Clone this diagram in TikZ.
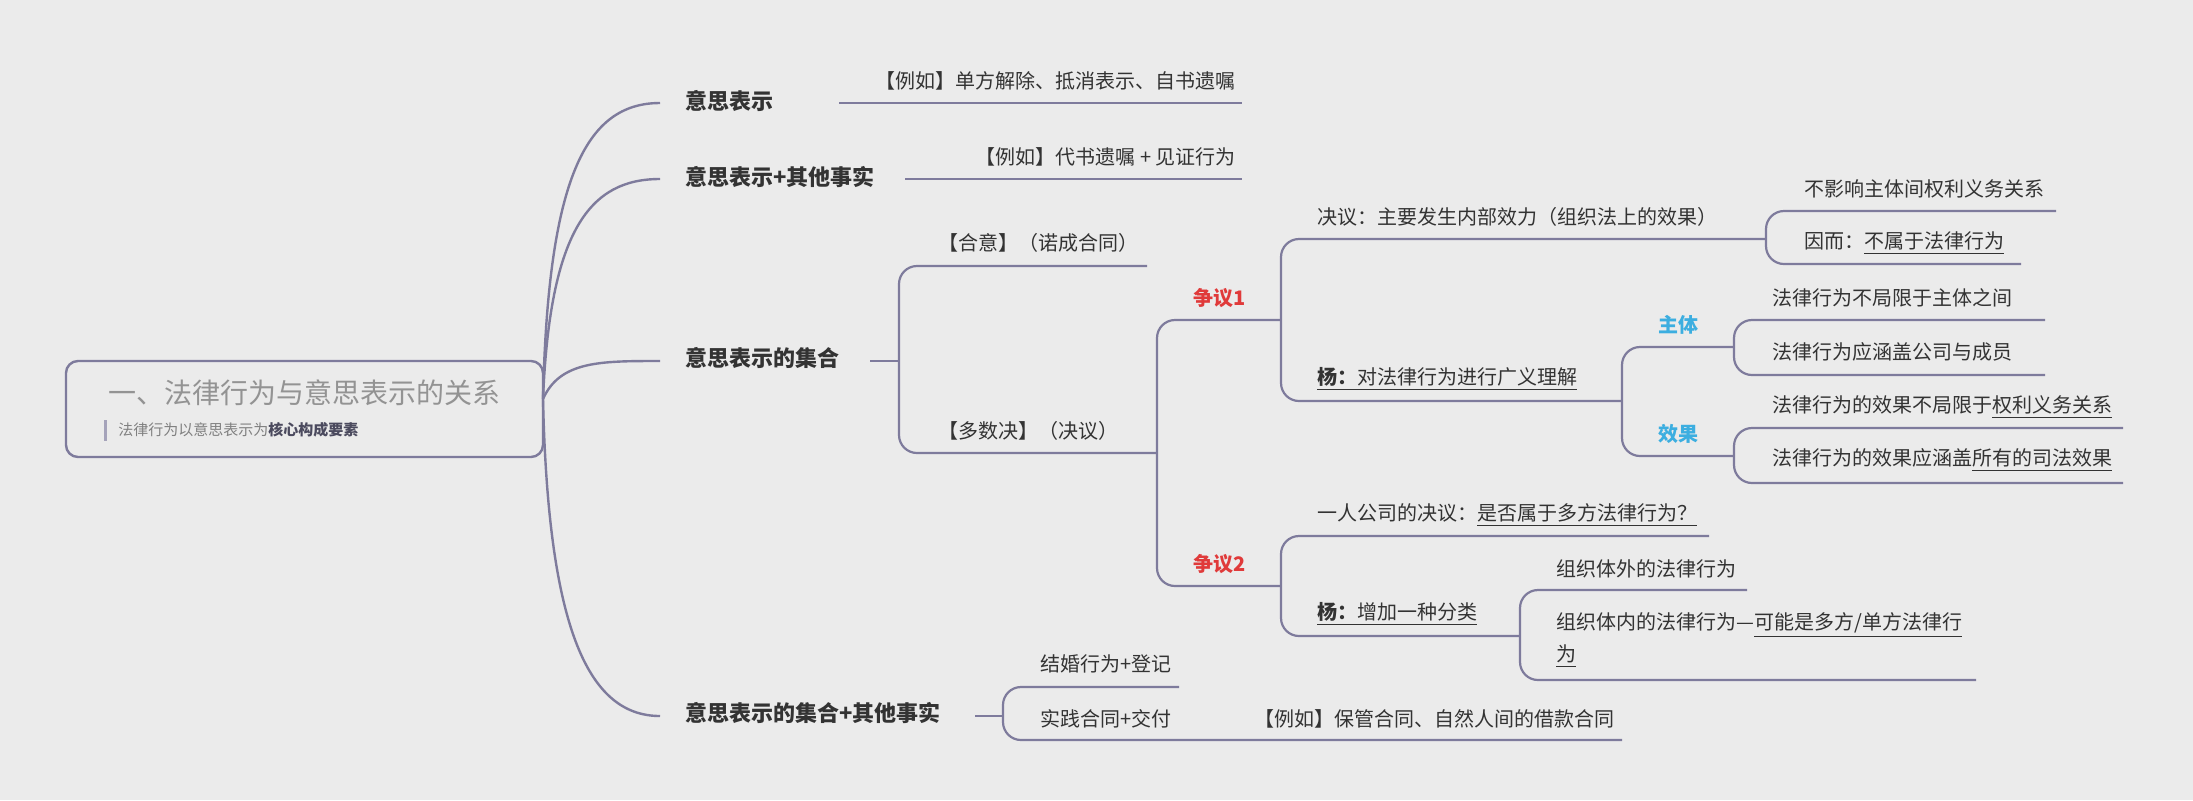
\documentclass[tikz,border=0pt]{standalone}
\usepackage{fontspec}
\setmainfont{Noto Sans CJK SC}
\usetikzlibrary{positioning}
\definecolor{linec}{HTML}{7E7B9C}
\definecolor{bgc}{HTML}{EBEBEB}
\definecolor{redc}{HTML}{E03A3A}
\definecolor{bluec}{HTML}{3CAEE0}
\definecolor{textc}{HTML}{333333}
\begin{document}
\begin{tikzpicture}[x=0.5pt,y=-0.5pt,
      branch/.style={draw=linec,line width=1.1pt,rounded corners=9pt},
      curve_st/.style={draw=linec,line width=1.2pt},
      topic_main/.style={anchor=west,font=\fontsize{11}{13}\selectfont\bfseries,text=textc,inner sep=0pt},
      topic_sub/.style={anchor=west,font=\fontsize{10}{16}\selectfont,text=textc,inner sep=0pt,align=left},
      topic_red/.style={anchor=west,font=\fontsize{10}{12}\selectfont\bfseries,text=redc,inner sep=0pt},
      topic_blue/.style={anchor=west,font=\fontsize{10}{12}\selectfont\bfseries,text=bluec,inner sep=0pt}
]
      \fill[bgc] (0,0) rectangle (2193,800);
      \useasboundingbox (0,0) rectangle (2193,800);
      % root
      \draw[linec,line width=1.2pt,rounded corners=6pt] (66,361) rectangle (543,457);
      \node[anchor=center,font=\fontsize{14}{16}\selectfont,text=gray!85] (root) at (304,393) {一、法律行为与意思表示的关系};
      \draw[linec!70,line width=1.5pt] (105,420) -- (105,441);
      \node[anchor=west,inner sep=0pt,font=\fontsize{7.5}{9}\selectfont,text=gray] (rootsub) at (118,430) {法律行为以意思表示为\textcolor{linec!60!black}{\bfseries 核心构成要素}};
      \coordinate (r) at (543,399);

      % level 1
      \coordinate (a1) at (660,103);
      \coordinate (a2) at (660,179);
      \coordinate (a3) at (660,361);
      \coordinate (a4) at (660,716);
      \draw[curve_st] (r) .. controls (548,180) and (585,103) .. (a1);
      \draw[curve_st] (r) .. controls (550,230) and (590,179) .. (a2);
      \draw[curve_st] (r) .. controls (560,361) and (600,361) .. (a3);
      \draw[curve_st] (r) .. controls (548,620) and (585,716) .. (a4);
      \node[topic_main] (n1) at (685,101) {意思表示};
      \node[topic_main] (n2) at (685,177) {意思表示+其他事实};
      \node[topic_main] (n3) at (685,358) {意思表示的集合};
      \node[topic_main] (n4) at (685,713) {意思表示的集合+其他事实};

      % 意思表示
      \draw[branch] (839,103) -- (1242,103);
      \node[topic_sub,anchor=east] (n1a) at (1236,81) {【例如】单方解除、抵消表示、自书遗嘱};
      \draw[branch] (905,179) -- (1242,179);
      \node[topic_sub,anchor=east] (n2a) at (1236,157) {【例如】代书遗嘱 + 见证行为};

      % 意思表示的集合
      \draw[branch] (870,361) -- (899,361);
      \draw[branch] (1147,266) -- (899,266) -- (899,453) -- (1157,453);
      \node[topic_sub] (n3a) at (938,243) {【合意】（诺成合同）};
      \node[topic_sub] (n3b) at (938,431) {【多数决】（决议）};

      \draw[branch] (1281,320) -- (1157,320) -- (1157,586) -- (1281,586);
      \node[topic_red] (z1) at (1193,298) {争议1};
      \node[topic_red] (z2) at (1193,564) {争议2};

      % 争议1
      \draw[branch] (1766,239) -- (1281,239) -- (1281,401) -- (1622,401);
      \node[topic_sub] (j1) at (1317,217) {决议：主要发生内部效力（组织法上的效果）};
      \node[topic_sub] (y1) at (1317,379) {\underline{\textbf{杨：}对法律行为进行广义理解}};
      \draw[branch] (2056,211) -- (1766,211) -- (1766,264) -- (2021,264);
      \node[topic_sub] (j1a) at (1804,189) {不影响主体间权利义务关系};
      \node[topic_sub] (j1b) at (1804,243) {因而：\underline{不属于法律行为}};

      \draw[branch] (1734,347) -- (1622,347) -- (1622,456) -- (1734,456);
      \node[topic_blue] (zt) at (1658,325) {主体};
      \node[topic_blue] (xg) at (1658,434) {效果};
      \draw[branch] (2045,320) -- (1734,320) -- (1734,375) -- (2045,375);
      \node[topic_sub] (zt1) at (1772,298) {法律行为不局限于主体之间};
      \node[topic_sub] (zt2) at (1772,352) {法律行为应涵盖公司与成员};
      \draw[branch] (2123,428) -- (1734,428) -- (1734,483) -- (2123,483);
      \node[topic_sub] (xg1) at (1772,407) {法律行为的效果不局限于\underline{权利义务关系}};
      \node[topic_sub] (xg2) at (1772,460) {法律行为的效果应涵盖\underline{所有的司法效果}};

      % 争议2
      \draw[branch] (1709,536) -- (1281,536) -- (1281,636) -- (1520,636);
      \node[topic_sub] (y2a) at (1317,515) {一人公司的决议：\underline{是否属于多方法律行为？}};
      \node[topic_sub] (y2) at (1317,614) {\underline{\textbf{杨：}增加一种分类}};
      \draw[branch] (1747,590) -- (1520,590) -- (1520,680) -- (1976,680);
      \node[topic_sub] (y2b) at (1556,569) {组织体外的法律行为};
      \node[topic_sub] (y2c) at (1556,640) {组织体内的法律行为—\underline{可能是多方/单方法律行}\\\underline{为}};

      % 意思表示的集合+其他事实
      \draw[branch] (975,716) -- (1003,716);
      \draw[branch] (1179,687) -- (1003,687) -- (1003,740) -- (1622,740);
      \node[topic_sub] (n4a) at (1040,664) {结婚行为+登记};
      \node[topic_sub] (n4b) at (1040,719) {实践合同+交付};
      \node[topic_sub] (n4c) at (1254,719) {【例如】保管合同、自然人间的借款合同};
\end{tikzpicture}
\end{document}
